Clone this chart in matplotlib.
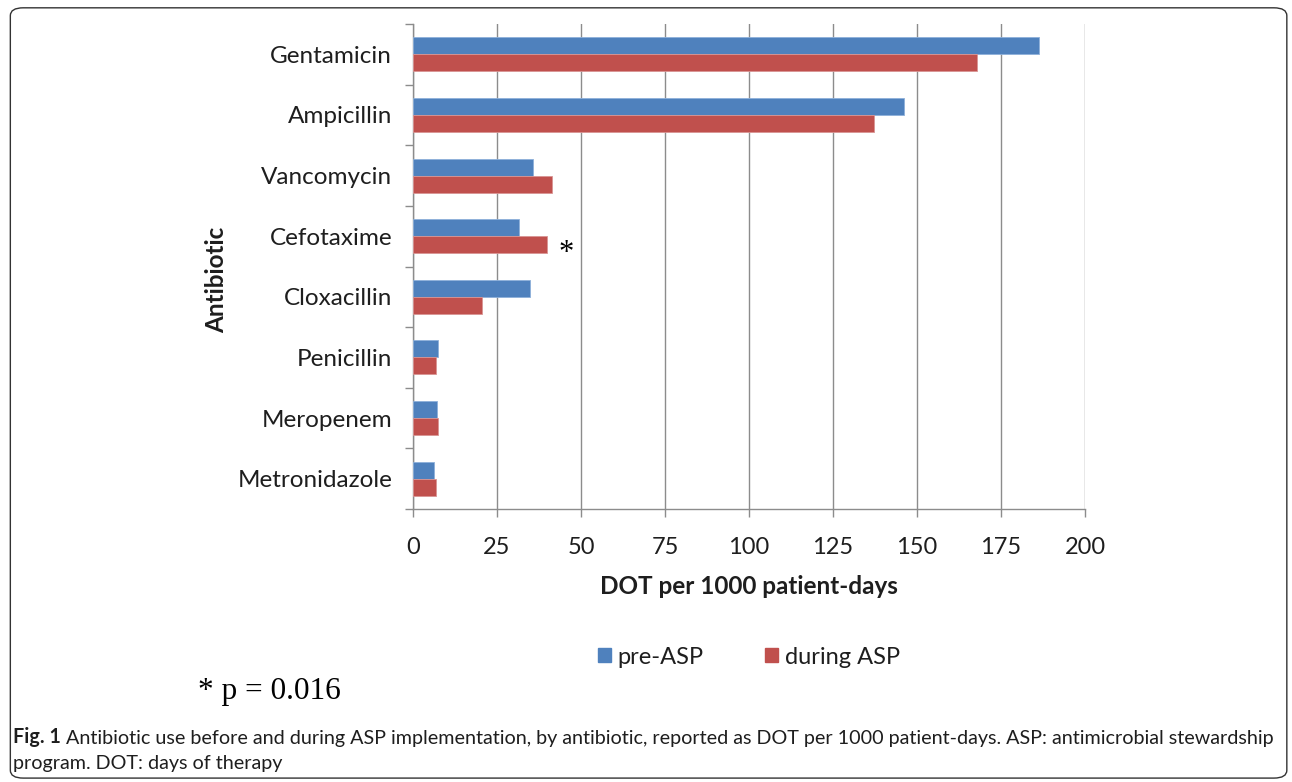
import matplotlib.pyplot as plt
import numpy as np
from matplotlib.patches import FancyBboxPatch, Patch

# data
antibiotics = ['Gentamicin', 'Ampicillin', 'Vancomycin', 'Cefotaxime',
               'Cloxacillin', 'Penicillin', 'Meropenem', 'Metronidazole']
pre_asp = [186.4, 146.1, 35.7, 31.4, 34.9, 7.3, 7.1, 6.3]
during_asp = [167.8, 137.2, 41.4, 39.9, 20.6, 6.7, 7.3, 6.7]
x_ticks = [0, 25, 50, 75, 100, 125, 150, 175, 200]

blue = '#4F81BD'
red = '#C0504D'
grid_col = '#8C8C8C'
font = ['Lato', 'DejaVu Sans']
txt_col = '#1E1E1E'

fig = plt.figure(figsize=(12.92, 7.82), dpi=100)
ax = fig.add_axes([413 / 1292, 1 - 509 / 782, 672 / 1292, 485 / 782])

y = np.arange(len(antibiotics))
h = 0.28
ax.barh(y - h / 2, pre_asp, height=h, color=blue, edgecolor='#8DB0DA', linewidth=0.6, label='pre-ASP', zorder=3)
ax.barh(y + h / 2, during_asp, height=h, color=red, edgecolor='#D99594', linewidth=0.6, label='during ASP', zorder=3)

ax.set_ylim(len(antibiotics) - 0.5, -0.5)
ax.set_xlim(0, 200)
ax.set_xticks(x_ticks)
ax.set_xticklabels([str(t) for t in x_ticks], fontsize=17, family=font, color=txt_col)
ax.set_yticks(y)
ax.set_yticklabels(antibiotics, fontsize=17.5, family=font, color=txt_col)
ax.set_yticks(np.arange(-0.5, len(antibiotics)), minor=True)
ax.tick_params(axis='y', which='major', length=0, pad=15)
ax.tick_params(axis='y', which='minor', length=6, color=grid_col, width=1)
ax.tick_params(axis='x', length=6, color=grid_col, width=1, pad=14)

ax.grid(axis='x', color=grid_col, linewidth=1, zorder=0)
for s in ['top', 'right']:
    ax.spines[s].set_visible(False)
for s in ['left', 'bottom']:
    ax.spines[s].set_color(grid_col)
    ax.spines[s].set_linewidth(1)

ax.set_xlabel('DOT per 1000 patient-days', fontsize=17.5, fontweight='bold', family=font, color=txt_col)
ax.xaxis.set_label_coords(0.5, -0.137)
ax.set_ylabel('Antibiotic', fontsize=17.5, fontweight='bold', family=font, color=txt_col)
ax.yaxis.set_label_coords(-0.275, 0.472)

# significance marker on cefotaxime
ax.text(45.5, 3 + h / 2 + 0.15, '*', fontsize=22, family='Liberation Serif', ha='center', va='center')

handles = [Patch(color=blue, label='pre-ASP'), Patch(color=red, label='during ASP')]
fig.legend(handles=handles, loc='center', bbox_to_anchor=(749 / 1292, 1 - 657 / 782), ncol=2, frameon=False,
           prop={'family': font, 'size': 17}, handlelength=0.55, handleheight=0.55,
           handletextpad=0.3, columnspacing=2.6, labelcolor=txt_col)

fig.text(198 / 1292, 1 - 692 / 782, '* p = 0.016', fontsize=22.5, family='Liberation Serif', va='center')

# caption
t1 = fig.text(13 / 1292, 1 - 737 / 782, 'Fig. 1', fontsize=14.2, fontweight='bold', family=font,
              va='center', color=txt_col)
cap = plt.Annotation(' Antibiotic use before and during ASP implementation, by antibiotic, '
                     'reported as DOT per 1000 patient-days. ASP: antimicrobial stewardship',
                     xy=(1, 0), xycoords=t1, va='bottom', fontsize=14.2, family=font, color=txt_col)
fig.add_artist(cap)
fig.text(13 / 1292, 1 - 764 / 782, 'program. DOT: days of therapy', fontsize=14.2, family=font,
         va='center', color=txt_col)

border = FancyBboxPatch((0.008, 0.005), 0.988, 0.985, boxstyle='round,pad=0,rounding_size=0.01',
                        transform=fig.transFigure, fill=False, edgecolor='#333333', linewidth=1)
fig.patches.append(border)

fig.savefig('out.png', dpi=100)
